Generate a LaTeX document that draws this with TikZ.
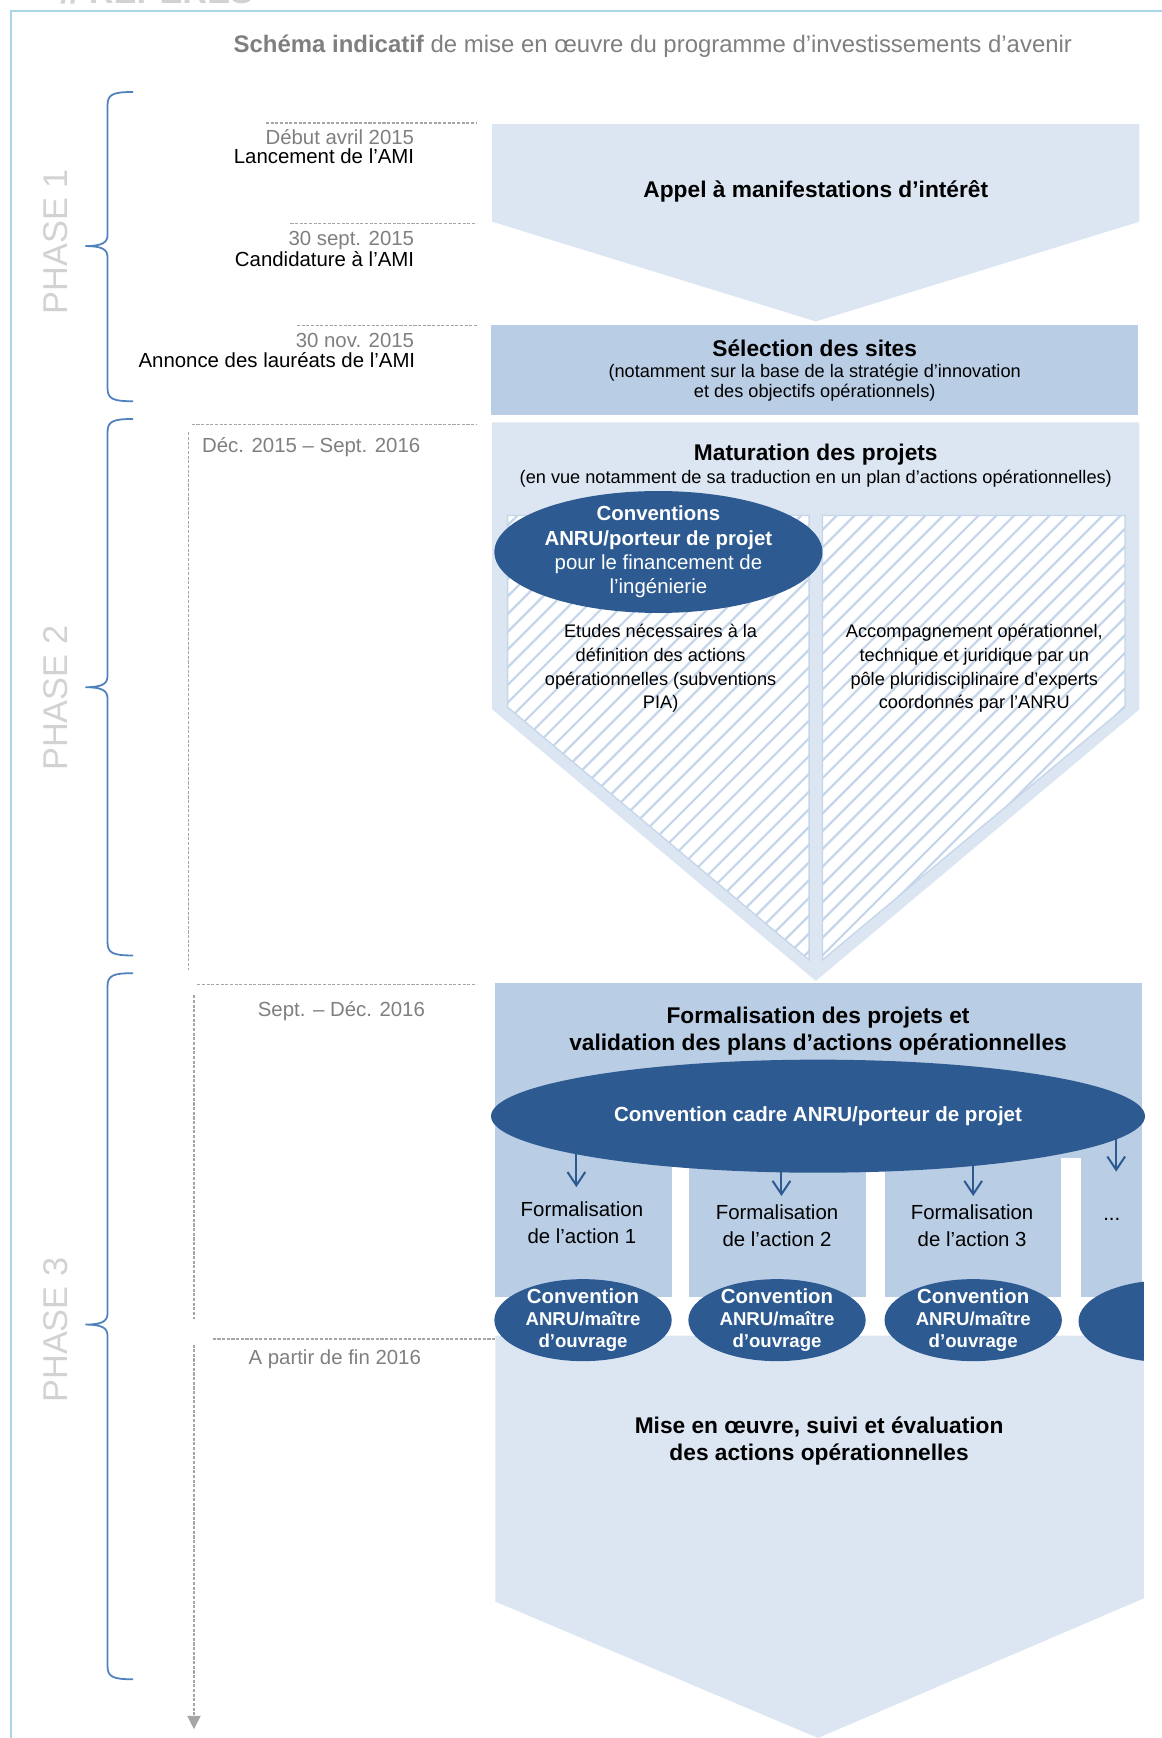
\documentclass[tikz,border=0pt]{standalone}
\usepackage{fontspec}
\setmainfont{Liberation Sans}
\usetikzlibrary{arrows.meta,shapes.geometric}

\definecolor{paleblue}{HTML}{DCE6F2}
\definecolor{midblue}{HTML}{B9CDE5}
\definecolor{deepblue}{HTML}{2D5B91}
\definecolor{bracecol}{HTML}{4F81BD}
\definecolor{stripecol}{HTML}{C6D6EA}
\definecolor{datecol}{HTML}{7F7F7F}
\definecolor{rulecol}{HTML}{A6A6A6}
\definecolor{phasecol}{HTML}{D2D2D2}
\definecolor{framecol}{HTML}{A9D6E8}

% curly brace of one phase: top, tip, bottom
\newcommand{\phasebrace}[3]{%
  \draw[bracestyle] (120,#1) .. controls (102,#1) and (97,#1+2) .. (97,#1+12)
    -- (97,#2-10) .. controls (97,#2-3) and (92,#2) .. (77,#2)
    .. controls (92,#2) and (97,#2+3) .. (97,#2+10)
    -- (97,#3-12) .. controls (97,#3-2) and (102,#3) .. (120,#3);}

\begin{document}
\begin{tikzpicture}[x=0.5pt,y=-0.5pt,
    every node/.style={inner sep=0pt},
    datelbl/.style={font=\fontsize{9.2}{9}\selectfont,text=datecol,anchor=mid east},
    eventlbl/.style={font=\fontsize{9.2}{9}\selectfont,anchor=mid east},
    periodlbl/.style={font=\fontsize{9.2}{9}\selectfont,text=datecol},
    heading/.style={font=\fontsize{10.25}{12}\selectfont\bfseries,align=center},
    subtext/.style={font=\fontsize{8.2}{9}\selectfont,align=center},
    paneltext/.style={font=\fontsize{8.2}{10.7}\selectfont,align=center},
    coltext/.style={font=\fontsize{9.2}{12}\selectfont,align=center},
    phaselbl/.style={font=\fontsize{15.5}{16}\selectfont,text=phasecol,rotate=90},
    dateline/.style={draw=rulecol,line width=0.5pt,dash pattern=on 1.4pt off 0.7pt},
    bracestyle/.style={draw=bracecol,line width=0.8pt},
    ellconv/.style={ellipse,fill=deepblue},
    convtext/.style={text=white,align=center},
    panelline/.style={draw=stripecol,line width=0.6pt},
    stripe/.style={draw=stripecol,line width=1pt},
    convarrow/.style={draw=deepblue,line width=0.9pt,-{Straight Barb[length=6pt,width=8pt]}}]

\useasboundingbox (0,0) rectangle (1048,1568);

% frame and title
\draw[framecol,line width=0.6pt] (10,1568) -- (10,10) -- (1048,10);
\node[font=\bfseries\fontsize{15.5}{16}\selectfont,text=phasecol,anchor=base west] (head) at (54,3) {// REPÈRES};
\node[font=\fontsize{10.8}{12}\selectfont,text=datecol] (title) at (589,42)
  {\textbf{Schéma indicatif} de mise en œuvre du programme d’investissements d’avenir};

% phases
\phasebrace{83}{222}{362}
\phasebrace{378}{620}{862}
\phasebrace{878}{1195}{1515}
\node[phaselbl] (ph1) at (50,218) {PHASE 1};
\node[phaselbl] (ph2) at (50,630) {PHASE 2};
\node[phaselbl] (ph3) at (50,1200) {PHASE 3};

% dates
\draw[dateline] (240,111) -- (430,111);
\node[datelbl] (d1) at (374,125) {Début avril 2015};
\node[eventlbl] (e1) at (374,142) {Lancement de l’AMI};
\draw[dateline] (262,202) -- (430,202);
\node[datelbl] (d2) at (374,216) {30 sept. 2015};
\node[eventlbl] (e2) at (374,235) {Candidature à l’AMI};
\draw[dateline] (268,294) -- (430,294);
\node[datelbl] (d3) at (374,308) {30 nov. 2015};
\node[eventlbl] (e3) at (375,326) {Annonce des lauréats de l’AMI};
\draw[dateline] (173,383) -- (430,383);
\draw[dateline] (170,390) -- (170,875);
\node[periodlbl,anchor=mid west] (p2) at (182,403) {Déc. 2015 – Sept. 2016};
\draw[dateline] (178,888) -- (430,888);
\draw[dateline] (175,898) -- (175,1190);
\node[periodlbl] (p3) at (308,912) {Sept. – Déc. 2016};
\draw[dateline] (192,1208) -- (447,1208);
\draw[dateline,-{Triangle[length=6pt,width=6pt]}] (175,1213) -- (175,1560);
\node[periodlbl] (p4) at (302,1226) {A partir de fin 2016};

% phase 1
\fill[paleblue] (444,112) -- (1028,112) -- (1028,200) -- (736,290) -- (444,200) -- cycle;
\node[heading] (ami) at (736,173) {Appel à manifestations d’intérêt};
\fill[midblue] (443,293) rectangle (1027,374);
\node[heading] (sel) at (735,314) {Sélection des sites};
\node[subtext] (selsub) at (735,345) {(notamment sur la base de la stratégie d’innovation\\et des objectifs opérationnels)};

% phase 2
\fill[paleblue] (444,381) -- (1028,381) -- (1028,640) -- (736,885) -- (444,640) -- cycle;
\node[heading] (matur) at (736,410) {Maturation des projets};
\node[subtext] (matsub) at (736,432) {(en vue notamment de sa traduction en un plan d’actions opérationnelles)};
\begin{scope}
  \clip (458,465) -- (730,465) -- (730,866) -- (458,638) -- cycle
        (742,465) -- (1015,465) -- (1015,638) -- (742,866) -- cycle;
  \fill[white] (458,465) rectangle (1015,866);
  \foreach \s in {0,16,...,784}
    \draw[stripe] (\s,900) -- ++(450,-450);
\end{scope}
\draw[panelline] (458,465) -- (730,465) -- (730,866) -- (458,638) -- cycle;
\draw[panelline] (742,465) -- (1015,465) -- (1015,638) -- (742,866) -- cycle;
\node[paneltext] (etudes) at (596,603) {Etudes nécessaires à la\\définition des actions\\opérationnelles (subventions\\PIA)};
\node[paneltext] (accomp) at (879,603) {Accompagnement opérationnel,\\technique et juridique par un\\pôle pluridisciplinaire d’experts\\coordonnés par l’ANRU};
\node[ellconv,minimum width=148pt,minimum height=55pt] (ingconv) at (594,498) {};
\node[convtext,font=\fontsize{9.2}{11}\selectfont] (ingtext) at (ingconv.center)
  {\textbf{Conventions}\\\textbf{ANRU/porteur de projet}\\pour le financement de\\l’ingénierie};

% phase 3
\fill[midblue] (447,887) rectangle (1030,1045);
\foreach \a/\b in {447/606,622/781,798/957,975/1030}
  \fill[midblue] (\a,1040) rectangle (\b,1170);
\node[heading] (formal) at (738,930) {Formalisation des projets et\\validation des plans d’actions opérationnelles};
\fill[paleblue] (447,1205) -- (1032,1205) -- (1032,1442) -- (738,1568) -- (447,1445) -- cycle;
\node[heading,font=\fontsize{10.25}{12.5}\selectfont\bfseries] (mise) at (739,1300) {Mise en œuvre, suivi et évaluation\\des actions opérationnelles};

\node[ellconv,minimum width=295pt,minimum height=51pt] (cadre) at (738,1007) {};
\node[convtext,font=\fontsize{9.25}{11}\selectfont\bfseries] (cadretext) at (cadre.center) {Convention cadre ANRU/porteur de projet};

\node[coltext] (act1) at (525,1103) {Formalisation\\de l’action 1};
\node[coltext] (act2) at (701,1106) {Formalisation\\de l’action 2};
\node[coltext] (act3) at (877,1106) {Formalisation\\de l’action 3};
\node[coltext] (act4) at (1003,1100) {...};

\foreach \x/\t/\b [count=\i] in {520/1026/1071,705/1037/1079,878/1037/1079,1007/1015/1057} {
  \coordinate (top\i) at (\x,\t);
  \coordinate (tip\i) at (\x,\b);
  \draw[convarrow] (top\i) -- (tip\i);
}

\foreach \x [count=\i] in {526,701,878} {
  \node[ellconv,minimum width=80pt,minimum height=37pt] (mo\i) at (\x,1191) {};
  \node[convtext,font=\fontsize{9.2}{10}\selectfont\bfseries] (motext\i) at (mo\i.center)
    {Convention\\{\fontsize{8.4}{10}\selectfont ANRU/maître}\\{\fontsize{8.4}{10}\selectfont d’ouvrage}};
}
\begin{scope}
  \clip (0,0) rectangle (1032,1568);
  \node[ellconv,minimum width=80pt,minimum height=37pt] (mo4) at (1053,1192) {};
\end{scope}
\end{tikzpicture}
\end{document}
